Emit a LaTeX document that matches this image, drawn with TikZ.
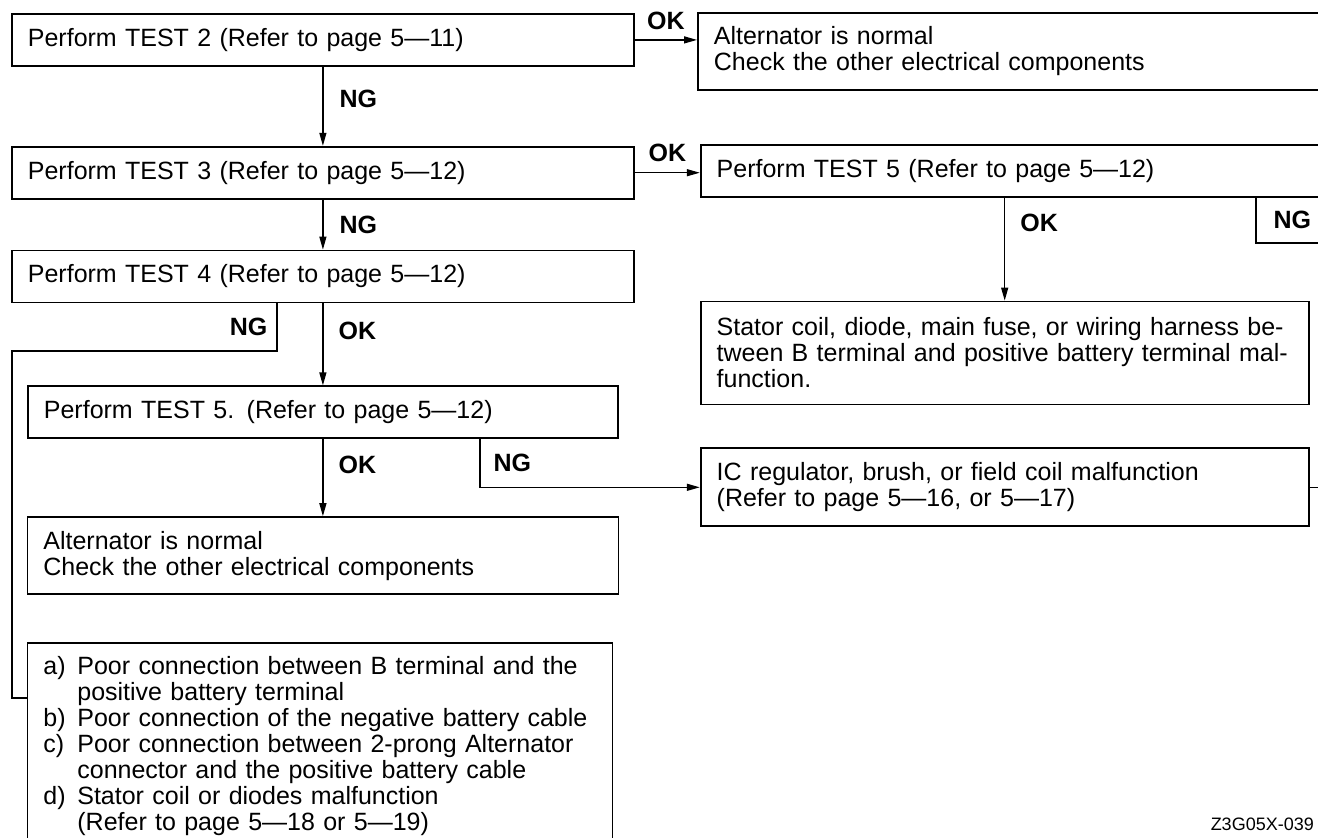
\documentclass[tikz,border=0pt]{standalone}
\usepackage{fontspec}
\setmainfont{Liberation Sans}
\usepackage{tikz}
\usetikzlibrary{arrows.meta, positioning}
\newcommand{\itemlbl}[1]{\makebox[1.36em][l]{#1}}
\newcommand{\itemgap}{\hspace*{1.36em}}
\tikzset{
  testbox/.style={rectangle, draw, line width=1.8pt, align=left,
    inner xsep=16pt, inner ysep=0pt, minimum height=52pt,
    font=\fontsize{25}{26}\selectfont},
  resultbox/.style={testbox, minimum height=77pt},
  flow/.style={-{Triangle[length=13pt, width=7pt]}, line width=1.3pt},
  wire/.style={line width=1.3pt},
  tag/.style={font=\fontsize{25}{26}\selectfont\bfseries, inner sep=0pt}
}

\begin{document}
\begin{tikzpicture}[x=1pt, y=1pt]

  \fill[white] (0,0) rectangle (1318,-838);
  \useasboundingbox (0,0) rectangle (1318,-838);
  \clip (0,0) rectangle (1318,-838);

  % --- Left column ---
  \node[testbox, anchor=north west, text width=590pt] (test2) at (11,-13)
    {Perform TEST 2 (Refer to page 5—11)};
  \node[testbox, below=79pt of test2, text width=590pt] (test3)
    {Perform TEST 3 (Refer to page 5—12)};
  \node[testbox, below=50pt of test3, text width=590pt] (test4)
    {Perform TEST 4 (Refer to page 5—12)};
  \node[testbox, below=82pt of test4, text width=558pt] (test5a)
    {Perform TEST 5. (Refer to page 5—12)};
  \node[resultbox, below=77pt of test5a, text width=559pt] (normal2)
    {Alternator is normal\\ Check the other electrical components};
  \node[testbox, below=47pt of normal2.south west, anchor=north west,
        text width=553pt, minimum height=207pt] (faults)
    {\itemlbl{a)}Poor connection between B terminal and the\\
     \itemgap positive battery terminal\\
     \itemlbl{b)}Poor connection of the negative battery cable\\
     \itemlbl{c)}Poor connection between 2-prong Alternator\\
     \itemgap connector and the positive battery cable\\
     \itemlbl{d)}Stator coil or diodes malfunction\\
     \itemgap (Refer to page 5—18 or 5—19)};

  % --- Right column ---
  \node[resultbox, anchor=north west, text width=608pt] (normal1) at (697,-12)
    {Alternator is normal\\ Check the other electrical components};
  \node[testbox, right=65pt of test3.north east, anchor=north west,
        text width=608pt, yshift=2pt] (test5b)
    {Perform TEST 5 (Refer to page 5—12)};
  \node[testbox, below=103pt of test5b.south west, anchor=north west,
        text width=576pt, minimum height=103pt] (stator)
    {Stator coil, diode, main fuse, or wiring harness be-\\
     tween B terminal and positive battery terminal mal-\\
     function.};
  \node[resultbox, below=42pt of stator.south west, anchor=north west,
        text width=576pt, minimum height=78pt] (icreg)
    {IC regulator, brush, or field coil malfunction\\
     (Refer to page 5—16, or 5—17)};

  \node[anchor=north east, inner sep=0pt, font=\fontsize{18}{19}\selectfont]
    (figcode) at (1314,-818) {Z3G05X-039};

  % --- Turning points ---
  \coordinate (ngturn) at (277,-351);
  \coordinate (ngdown) at (12,-698);
  \coordinate (ngbranch) at (480,0);
  \coordinate (ngright) at (1256,-243);

  % --- Arrows ---
  \draw[flow] (test2.east) -- node[tag, above=10pt] {OK} (test2.east -| normal1.west);
  \draw[flow] (test2) -- node[tag, right=16pt, pos=0.4] {NG} (test3);
  \draw[flow] (test3.east) -- node[tag, above=10pt] {OK} (test3.east -| test5b.west);
  \draw[flow] (test3) -- node[tag, right=16pt] {NG} (test4);
  \draw[flow] (test4) -- node[tag, right=15pt, pos=0.33] {OK} (test5a);
  % TEST 4 NG leads round to the list of causes
  \draw[wire] (test4.south -| ngturn) -- node[tag, left=9pt] {NG} (ngturn)
    -| (ngdown) -- (ngdown -| faults.west);
  \draw[flow] (test5a) -- node[tag, right=15pt, pos=0.34] {OK} (normal2);
  \draw[flow] (test5a.south -| ngbranch) |- node[tag, right=13pt, pos=0.25] {NG} (icreg.west);
  \draw[wire] (icreg.east) -- ++(40,0);
  \draw[flow] (test5b.south -| stator.north) -- node[tag, right=15pt, pos=0.25] {OK} (stator.north);
  \draw[wire] (test5b.south -| ngright) -- node[tag, right=17pt] {NG} (ngright) -- ++(80,0);

\end{tikzpicture}
\end{document}
